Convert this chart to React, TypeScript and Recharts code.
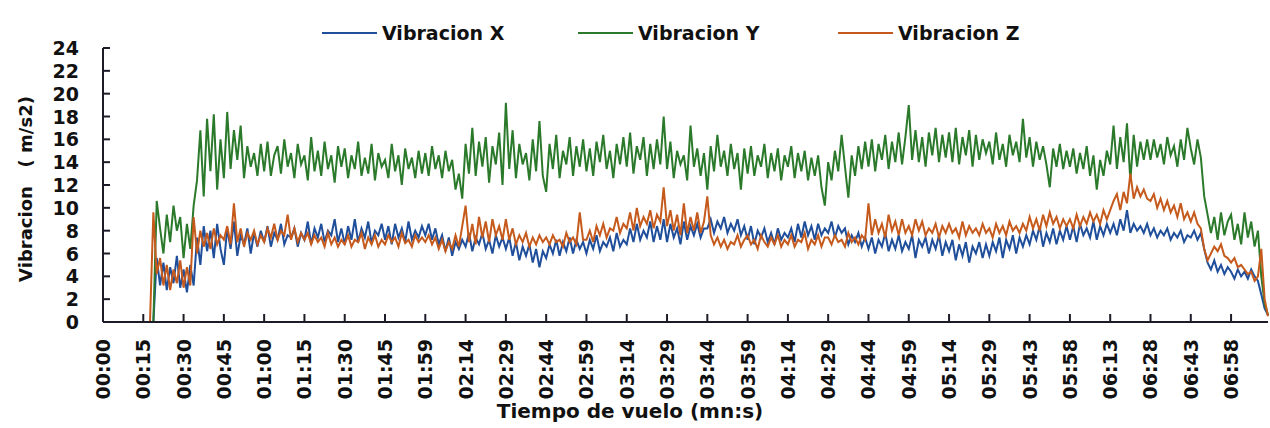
import { LineChart, Line, XAxis, YAxis } from 'recharts'

// one time label every 12 samples
const TIME_LABELS = [
  '00:00', '00:15', '00:30', '00:45', '01:00', '01:15', '01:30', '01:45', '01:59', '02:14',
  '02:29', '02:44', '02:59', '03:14', '03:29', '03:44', '03:59', '04:14', '04:29', '04:44',
  '04:59', '05:14', '05:29', '05:43', '05:58', '06:13', '06:28', '06:43', '06:58',
]
const SAMPLES_PER_LABEL = 12
const Y_TICKS = [0, 2, 4, 6, 8, 10, 12, 14, 16, 18, 20, 22, 24]

const VIB_X = [
  0, 0, 0, 0, 0, 0, 0, 0, 0, 0, 0, 0,
  0, 0, 0, 0, 5.6, 3.2, 5.2, 2.8, 4.8, 3.4, 5.8, 3.0,
  4.6, 2.6, 5.0, 3.2, 7.4, 5.0, 8.4, 6.2, 8.0, 5.6, 8.6, 6.4,
  5.0, 8.2, 6.4, 8.8, 5.8, 7.6, 6.8, 8.2, 6.0, 7.8, 6.6, 8.0,
  7.0, 8.4, 6.6, 7.8, 7.2, 8.6, 6.8, 7.6, 7.4, 8.2, 6.6, 7.8,
  7.2, 8.8, 6.8, 8.2, 7.4, 8.6, 7.0, 8.0, 7.6, 9.0, 7.0, 8.2,
  6.8, 8.4, 7.2, 9.0, 7.0, 8.2, 7.4, 8.8, 6.9, 8.0, 7.6, 8.6,
  7.2, 8.4, 6.8, 8.6, 7.4, 8.2, 7.0, 8.8, 7.2, 8.0, 7.4, 8.4,
  7.6, 8.6, 7.2, 8.2, 6.8, 7.6, 6.2, 7.4, 5.8, 7.0, 6.4, 7.2,
  6.6, 7.8, 6.2, 7.4, 6.8, 7.8, 6.4, 7.2, 6.0, 7.6, 6.6, 7.4,
  6.4, 7.4, 5.8, 7.0, 5.4, 6.6, 5.8, 6.8, 5.2, 6.4, 4.8, 6.2,
  5.6, 6.8, 6.0, 7.2, 5.8, 7.0, 6.2, 7.4, 6.0, 7.2, 6.4, 7.0,
  6.0, 7.2, 6.4, 7.6, 6.2, 7.0, 6.6, 7.4, 6.2, 7.8, 6.6, 7.2,
  6.8, 8.2, 7.0, 8.6, 7.2, 8.0, 7.4, 8.8, 7.0, 8.4, 7.2, 9.0,
  7.0, 8.6, 7.4, 8.2, 6.8, 8.8, 7.2, 8.4, 7.6, 8.6, 7.4, 8.2,
  8.2, 9.0, 7.8, 8.8, 8.2, 9.2, 7.8, 8.6, 8.0, 9.0, 7.6, 8.4,
  7.2, 8.4, 6.8, 8.0, 7.4, 8.2, 7.0, 7.8, 6.8, 8.2, 7.2, 7.8,
  7.4, 8.2, 7.0, 8.6, 7.4, 8.8, 7.6, 8.4, 7.2, 8.6, 7.6, 8.2,
  7.8, 8.8, 7.4, 8.4, 7.8, 8.2, 6.8, 7.6, 7.0, 7.8, 6.6, 7.4,
  6.4, 7.4, 6.0, 7.2, 6.6, 7.8, 6.2, 7.2, 6.4, 7.6, 6.2, 7.0,
  6.4, 7.6, 5.6, 7.2, 6.6, 7.4, 6.0, 7.2, 6.4, 7.6, 5.8, 7.0,
  6.2, 7.2, 5.4, 6.8, 5.8, 7.0, 5.2, 6.6, 6.0, 7.0, 5.6, 6.8,
  5.8, 7.0, 6.2, 7.4, 5.6, 7.2, 6.4, 7.6, 6.0, 7.4, 6.6, 7.6,
  6.8, 8.0, 7.2, 8.4, 6.6, 7.8, 7.0, 8.2, 6.8, 8.0, 7.2, 8.4,
  7.2, 8.4, 7.0, 8.6, 7.6, 8.2, 7.4, 8.8, 7.2, 8.4, 7.6, 8.6,
  7.8, 8.6, 7.6, 9.0, 8.0, 9.8, 7.8, 8.6, 8.0, 8.4, 7.8, 8.6,
  7.6, 8.2, 7.4, 8.0, 7.6, 8.2, 7.2, 7.8, 7.4, 8.0, 7.0, 7.6,
  7.4, 8.0, 7.2, 7.8, 6.4, 5.2, 4.6, 5.4, 4.4, 5.0, 4.2, 4.8,
  4.4, 3.8, 4.6, 4.0, 4.4, 3.8, 4.6, 4.0, 3.6, 2.4, 1.2, 0.6,
]

const VIB_Y = [
  0, 0, 0, 0, 0, 0, 0, 0, 0, 0, 0, 0,
  0, 0, 0, 0, 10.6, 8.2, 6.0, 9.4, 7.0, 10.2, 8.0, 9.2,
  5.6, 8.6, 6.4, 10.2, 12.4, 16.8, 11.0, 17.8, 13.2, 18.2, 11.6, 16.0,
  12.6, 18.4, 13.4, 16.8, 14.2, 17.2, 12.6, 15.4, 13.6, 14.8, 12.8, 15.6,
  13.2, 15.8, 12.8, 14.6, 15.4, 13.0, 16.0, 13.6, 14.8, 12.6, 15.6, 13.8,
  14.6, 12.4, 16.2, 13.2, 15.0, 12.8, 15.8, 13.4, 14.6, 12.2, 15.4, 13.6,
  15.2, 12.6, 14.6, 13.4, 15.8, 12.8, 14.4, 13.0, 15.6, 12.4, 14.8, 13.6,
  14.2, 12.6, 15.6, 13.2, 14.6, 12.0, 15.2, 13.4, 14.4, 12.6, 15.0, 13.0,
  14.8, 12.8, 15.4, 13.4, 14.6, 12.6, 15.0, 13.2, 14.2, 11.6, 13.0, 10.8,
  15.6, 13.0, 17.0, 12.8, 15.8, 13.6, 16.2, 12.2, 15.4, 13.8, 16.6, 12.0,
  19.2, 13.4, 16.8, 12.6, 15.6, 13.8, 14.8, 12.4, 16.0, 13.2, 17.6, 12.8,
  11.4, 15.6, 13.4, 16.4, 12.6, 15.0, 13.8, 16.2, 12.8, 15.4, 13.6, 16.0,
  13.2, 15.2, 12.8, 15.8, 14.0, 16.4, 13.4, 15.0, 12.6, 15.6, 13.8, 16.2,
  13.6, 16.6, 13.0, 15.4, 14.2, 16.2, 12.8, 15.6, 13.4, 16.0, 13.8, 18.0,
  13.4, 15.8, 12.6, 15.0, 13.8, 14.6, 12.4, 17.2, 13.6, 15.2, 12.8, 14.8,
  11.6, 15.4, 13.2, 16.4, 13.6, 15.0, 12.8, 15.6, 13.4, 14.8, 11.6, 15.2,
  13.0, 15.4, 12.8, 14.6, 13.6, 15.6, 12.6, 14.8, 13.2, 15.2, 12.4, 14.6,
  13.6, 15.4, 12.6, 14.8, 13.2, 15.0, 12.4, 14.4, 12.8, 14.6, 11.8, 10.2,
  14.0, 12.4, 15.0, 13.2, 16.4, 13.6, 10.9, 14.6, 12.8, 15.4, 13.4, 15.8,
  13.6, 16.0, 13.2, 15.6, 14.2, 16.4, 13.4, 15.8, 14.0, 16.6, 13.8, 16.2,
  19.0, 14.2, 16.8, 14.0, 16.2, 13.6, 16.6, 14.6, 17.0, 14.0, 16.4, 14.4,
  16.6, 14.0, 17.0, 13.8, 16.2, 14.6, 16.8, 13.6, 16.4, 14.2, 16.0, 14.8,
  15.8, 13.8, 16.6, 14.2, 15.6, 13.6, 16.4, 14.6, 15.8, 14.0, 17.8, 14.4,
  16.2, 13.6, 15.8, 14.2, 15.4, 13.8, 11.8, 15.2, 13.6, 15.6, 13.4, 15.0,
  13.6, 15.2, 13.0, 14.8, 13.4, 15.4, 12.8, 14.6, 11.6, 14.2, 12.8, 15.0,
  13.8, 17.2, 13.4, 16.2, 14.0, 17.4, 12.4, 16.4, 13.6, 15.8, 14.2, 16.0,
  14.2, 16.0, 14.4, 15.6, 13.8, 16.2, 14.6, 15.4, 13.6, 16.0, 14.2, 17.0,
  15.2, 13.8, 16.0, 14.4, 11.0, 9.4, 7.8, 9.2, 7.2, 9.6, 7.6, 8.8,
  9.4, 7.2, 8.6, 6.8, 9.6, 7.4, 8.8, 6.6, 8.0, 4.0, 1.6, 0.6,
]

const VIB_Z = [
  0, 0, 0, 0, 0, 0, 0, 0, 0, 0, 0, 0,
  0, 0, 0, 9.6, 4.2, 5.6, 3.2, 5.0, 2.8, 4.6, 3.4, 5.4,
  3.0, 4.8, 3.2, 9.2, 6.0, 8.0, 6.6, 7.8, 6.4, 8.2, 6.8, 7.6,
  7.2, 8.4, 6.8, 10.4, 7.0, 8.2, 6.6, 7.8, 7.2, 8.0, 6.8, 7.6,
  7.0, 8.2, 7.4, 8.6, 7.2, 8.0, 7.6, 9.4, 7.2, 8.2, 7.0, 7.8,
  7.2, 7.8, 6.8, 7.6, 7.0, 7.4, 6.6, 7.8, 6.8, 7.4, 6.6, 7.2,
  6.8, 7.6, 6.6, 7.2, 7.0, 7.8, 6.4, 7.4, 6.8, 7.6, 6.6, 7.2,
  6.8, 7.6, 7.0, 7.4, 6.6, 7.8, 6.9, 7.2, 6.6, 7.6, 7.0, 7.4,
  7.0, 7.6, 6.8, 7.4, 6.4, 7.2, 6.2, 7.0, 6.4, 7.6, 6.6, 8.4,
  10.2, 7.0, 8.6, 6.8, 9.2, 7.4, 8.8, 7.0, 9.0, 7.6, 8.4, 7.2,
  9.0, 7.2, 8.2, 6.8, 7.6, 7.0, 7.8, 6.6, 7.4, 6.8, 7.6, 7.0,
  7.4, 6.8, 7.6, 7.0, 7.2, 6.6, 7.8, 7.0, 7.4, 6.8, 9.6, 7.2,
  7.2, 8.0, 7.0, 8.4, 7.6, 8.6, 7.4, 8.2, 8.0, 9.2, 7.8, 8.6,
  8.2, 9.6, 8.0, 10.0, 8.4, 9.2, 8.6, 9.8, 8.2, 9.4, 8.8, 11.8,
  8.4, 9.8, 8.0, 9.4, 7.6, 10.4, 7.8, 9.2, 8.0, 9.6, 7.8, 8.8,
  11.0, 7.6, 6.8, 7.4, 6.6, 7.2, 6.4, 7.0, 6.8, 7.6, 6.6, 7.2,
  7.6, 6.8, 7.2, 6.4, 7.6, 7.0, 6.6, 7.4, 6.8, 7.6, 6.6, 7.2,
  6.8, 7.6, 6.6, 7.2, 7.0, 7.8, 6.4, 7.2, 6.8, 7.6, 6.6, 7.4,
  7.4, 6.8, 7.6, 7.0, 7.2, 6.6, 7.8, 7.0, 7.4, 6.8, 7.6, 7.2,
  10.4, 7.6, 9.0, 7.8, 8.6, 7.4, 9.4, 8.0, 8.8, 7.6, 9.0, 7.8,
  8.4, 7.6, 9.0, 8.0, 8.8, 7.6, 8.2, 7.8, 8.6, 7.4, 8.4, 7.8,
  8.6, 7.8, 8.2, 7.4, 8.8, 7.6, 8.4, 7.8, 8.2, 7.6, 8.6, 7.8,
  8.2, 7.4, 8.6, 7.8, 8.4, 7.6, 8.8, 8.0, 8.4, 7.8, 8.6, 8.0,
  9.2, 8.2, 9.0, 8.0, 9.4, 8.4, 9.6, 8.6, 9.2, 8.2, 9.0, 8.4,
  9.0, 8.2, 9.4, 8.4, 9.2, 8.6, 9.6, 8.8, 9.4, 8.6, 9.8, 9.0,
  9.8, 10.6, 11.2, 9.8, 11.4, 10.4, 13.0, 10.8, 11.8, 11.0, 11.6, 10.8,
  10.6, 11.2, 10.0, 10.8, 9.8, 10.6, 9.6, 10.2, 9.2, 10.4, 9.0, 9.6,
  8.8, 9.6, 8.6, 8.2, 6.4, 5.4, 6.0, 6.6, 6.2, 6.8, 5.8, 5.6,
  5.2, 5.6, 4.8, 5.0, 4.6, 4.2, 4.4, 3.6, 4.0, 6.4, 2.0, 0.5,
]

const SERIES = [
  { key: 'x', name: 'Vibracion X', color: '#1f4e9a' },
  { key: 'y', name: 'Vibracion Y', color: '#2b7a2b' },
  { key: 'z', name: 'Vibracion Z', color: '#c55a1c' },
]

const data = VIB_X.map((x, i) => ({ i, x, y: VIB_Y[i], z: VIB_Z[i] }))
const xTicks = TIME_LABELS.map((_, k) => k * SAMPLES_PER_LABEL)

const FONT = '"DejaVu Sans", Verdana, sans-serif'
const INK = '#111'
const AXIS_COLOR = '#1c1c28'
const X_MARGIN = 17
const Y_MARGIN = 24

// rotated time label plus an inward (upward) tick mark
function TimeTick({ x, y, payload }: any) {
  const label = TIME_LABELS[payload.value / SAMPLES_PER_LABEL]
  return (
    <g>
      <line x1={x} x2={x} y1={y - X_MARGIN} y2={y - X_MARGIN - 8} stroke={AXIS_COLOR} strokeWidth={2} />
      <text
        x={x}
        y={y}
        transform={`rotate(-90, ${x}, ${y})`}
        textAnchor="end"
        dominantBaseline="central"
        fontFamily={FONT}
        fontWeight="bold"
        fontSize={19}
        fill={INK}
      >
        {label}
      </text>
    </g>
  )
}

function ValueTick({ x, y, payload }: any) {
  return (
    <g>
      <line x1={x + Y_MARGIN} x2={x + Y_MARGIN + 7} y1={y} y2={y} stroke={AXIS_COLOR} strokeWidth={2} />
      <text x={x} y={y} textAnchor="end" dominantBaseline="central" fontFamily={FONT} fontWeight="bold" fontSize={19} fill={INK}>
        {payload.value}
      </text>
    </g>
  )
}

function XTitle({ viewBox }: any) {
  const vb = viewBox || { x: 103, y: 322 }
  return (
    <text x={vb.x + 527} y={vb.y + 96} textAnchor="middle" fontFamily={FONT} fontWeight="bold" fontSize={20} fill={INK}>
      Tiempo de vuelo (mn:s)
    </text>
  )
}

function YTitle({ viewBox }: any) {
  const vb = viewBox || { x: 0, y: 48, height: 274 }
  const cx = vb.x + 25
  const cy = vb.y + vb.height / 2 + 4
  return (
    <text
      x={cx}
      y={cy}
      transform={`rotate(-90, ${cx}, ${cy})`}
      textAnchor="middle"
      dominantBaseline="central"
      fontFamily={FONT}
      fontWeight="bold"
      fontSize={18}
      fill={INK}
      style={{ whiteSpace: 'pre' }}
    >
      {'Vibracion   ( m/s2)'}
    </text>
  )
}

export default function App() {
  return (
    <div style={{ position: 'absolute', left: 0, top: 0, width: 1270, height: 428, background: '#fff' }}>
      <div style={{ position: 'absolute', left: 0, top: 21, width: 1270, height: 24, fontFamily: FONT, fontWeight: 'bold', fontSize: 19, color: INK }}>
        {SERIES.map((s, k) => (
          <div key={s.key} style={{ position: 'absolute', left: [322, 578, 838][k], top: 0, display: 'flex', alignItems: 'center', height: 24 }}>
            <span style={{ display: 'inline-block', width: 55, height: 2, background: s.color, marginRight: 5 }} />
            <span>{s.name}</span>
          </div>
        ))}
      </div>
      <LineChart width={1270} height={428} data={data} margin={{ top: 48, right: 2, bottom: 0, left: 0 }}>
        <XAxis
          dataKey="i"
          type="number"
          domain={[0, VIB_X.length - 1]}
          ticks={xTicks}
          interval={0}
          tick={<TimeTick />}
          tickSize={0}
          tickMargin={X_MARGIN}
          tickLine={false}
          height={106}
          axisLine={{ stroke: AXIS_COLOR, strokeWidth: 2 }}
          label={(props: any) => <XTitle {...props} />}
        />
        <YAxis
          domain={[0, 24]}
          ticks={Y_TICKS}
          interval={0}
          width={103}
          tickSize={0}
          tickMargin={Y_MARGIN}
          tickLine={false}
          axisLine={{ stroke: AXIS_COLOR, strokeWidth: 2 }}
          tick={<ValueTick />}
          label={(props: any) => <YTitle {...props} />}
        />
        {SERIES.map((s) => (
          <Line
            key={s.key}
            type="linear"
            dataKey={s.key}
            name={s.name}
            stroke={s.color}
            strokeWidth={2}
            dot={false}
            isAnimationActive={false}
          />
        ))}
      </LineChart>
    </div>
  )
}
